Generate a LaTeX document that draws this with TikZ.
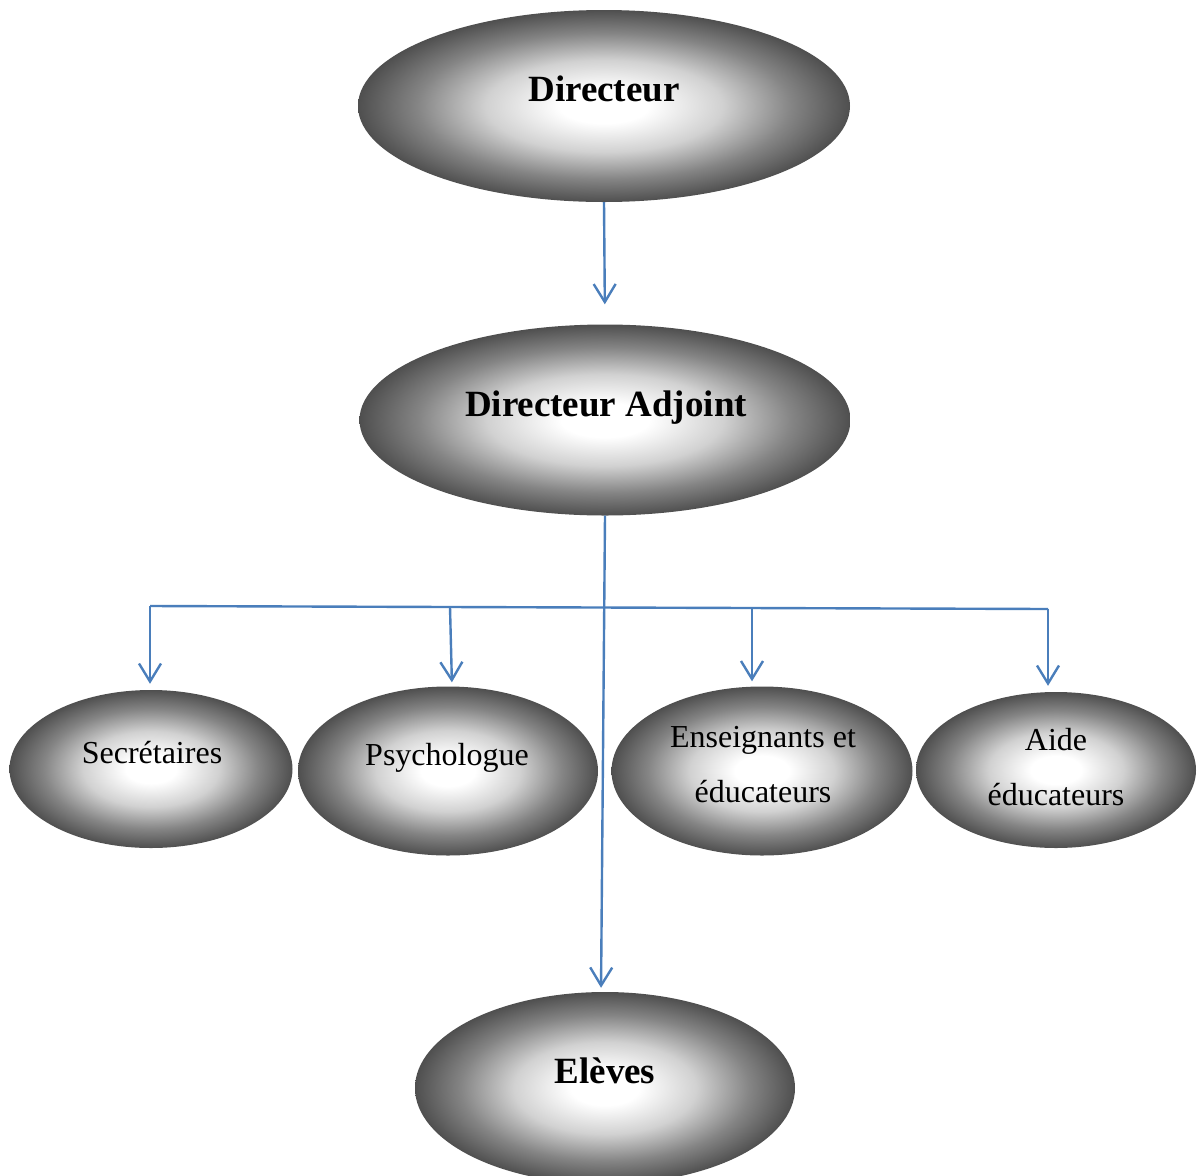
\documentclass[tikz,border=0pt]{standalone}
\usepackage{fontspec}
\setmainfont{Liberation Serif}
\usetikzlibrary{shapes.geometric,arrows.meta,calc}
\definecolor{connblue}{HTML}{4A7EBB}
\pgfdeclareradialshading{ellshade}{\pgfpoint{0bp}{0bp}}{rgb(0bp)=(1,1,1); rgb(4.5bp)=(1,1,1); rgb(12bp)=(0.82,0.82,0.82); rgb(19bp)=(0.52,0.52,0.52); rgb(25bp)=(0.31,0.31,0.31); rgb(50bp)=(0.31,0.31,0.31)}
\tikzset{
  ell/.style={ellipse, inner sep=0pt, shading=ellshade, draw=none},
  conn/.style={draw=connblue, line width=2.4pt},
  arr/.style={conn, -{Straight Barb[length=18pt,width=22pt]}},
  boldtxt/.style={font=\fontsize{37}{44}\selectfont\bfseries, anchor=base, inner sep=0pt},
  regtxt/.style={font=\fontsize{32}{38}\selectfont, anchor=base, inner sep=0pt}
}
\begin{document}
\begin{tikzpicture}[x=1pt,y=-1pt]
\useasboundingbox (0,0) rectangle (1203,1176);
% ellipses
\node[ell, minimum width=492pt, minimum height=192pt] (dir) at (604,106) {};
\node[ell, minimum width=491pt, minimum height=191pt] (adj) at (605,420) {};
\node[ell, minimum width=283pt, minimum height=158pt] (sec) at (151,769) {};
\node[ell, minimum width=300pt, minimum height=169pt] (psy) at (448,771) {};
\node[ell, minimum width=301pt, minimum height=169pt] (ens) at (762,771) {};
\node[ell, minimum width=280pt, minimum height=156pt] (aide) at (1056,770) {};
\node[ell, minimum width=380pt, minimum height=192pt] (elv) at (605,1088) {};
% texts
\node[boldtxt] (tdir) at (604,101) {Directeur};
\node[boldtxt] (tadj) at (606,416) {Directeur Adjoint};
\node[boldtxt] (telv) at (605,1083) {Elèves};
\node[regtxt] (tsec) at (152,763) {Secrétaires};
\node[regtxt] (tpsy) at (447,765) {Psychologue};
\node[regtxt] (tens1) at (763,747) {Enseignants et};
\node[regtxt] (tens2) at (763,802) {éducateurs};
\node[regtxt] (taide1) at (1056,750) {Aide};
\node[regtxt] (taide2) at (1056,805) {éducateurs};
% connectors
\draw[arr, shorten >=20pt] (dir.south) -- (adj.north);
\draw[arr, shorten >=4pt] (adj.south) -- ([xshift=-4pt]elv.north);
\coordinate (b1) at (150,606);
\coordinate (b2) at (450,607);
\coordinate (b3) at (752,608);
\coordinate (b4) at (1048,609);
\draw[conn] (b1) -- (b4);
\draw[arr, shorten >=6pt] (b1) -- (b1 |- sec.north);
\draw[arr, shorten >=4pt] (b2) -- ([xshift=4pt]psy.north);
\draw[arr, shorten >=5pt] (b3) -- (b3 |- ens.north);
\draw[arr, shorten >=6pt] (b4) -- (b4 |- aide.north);
\end{tikzpicture}
\end{document}
